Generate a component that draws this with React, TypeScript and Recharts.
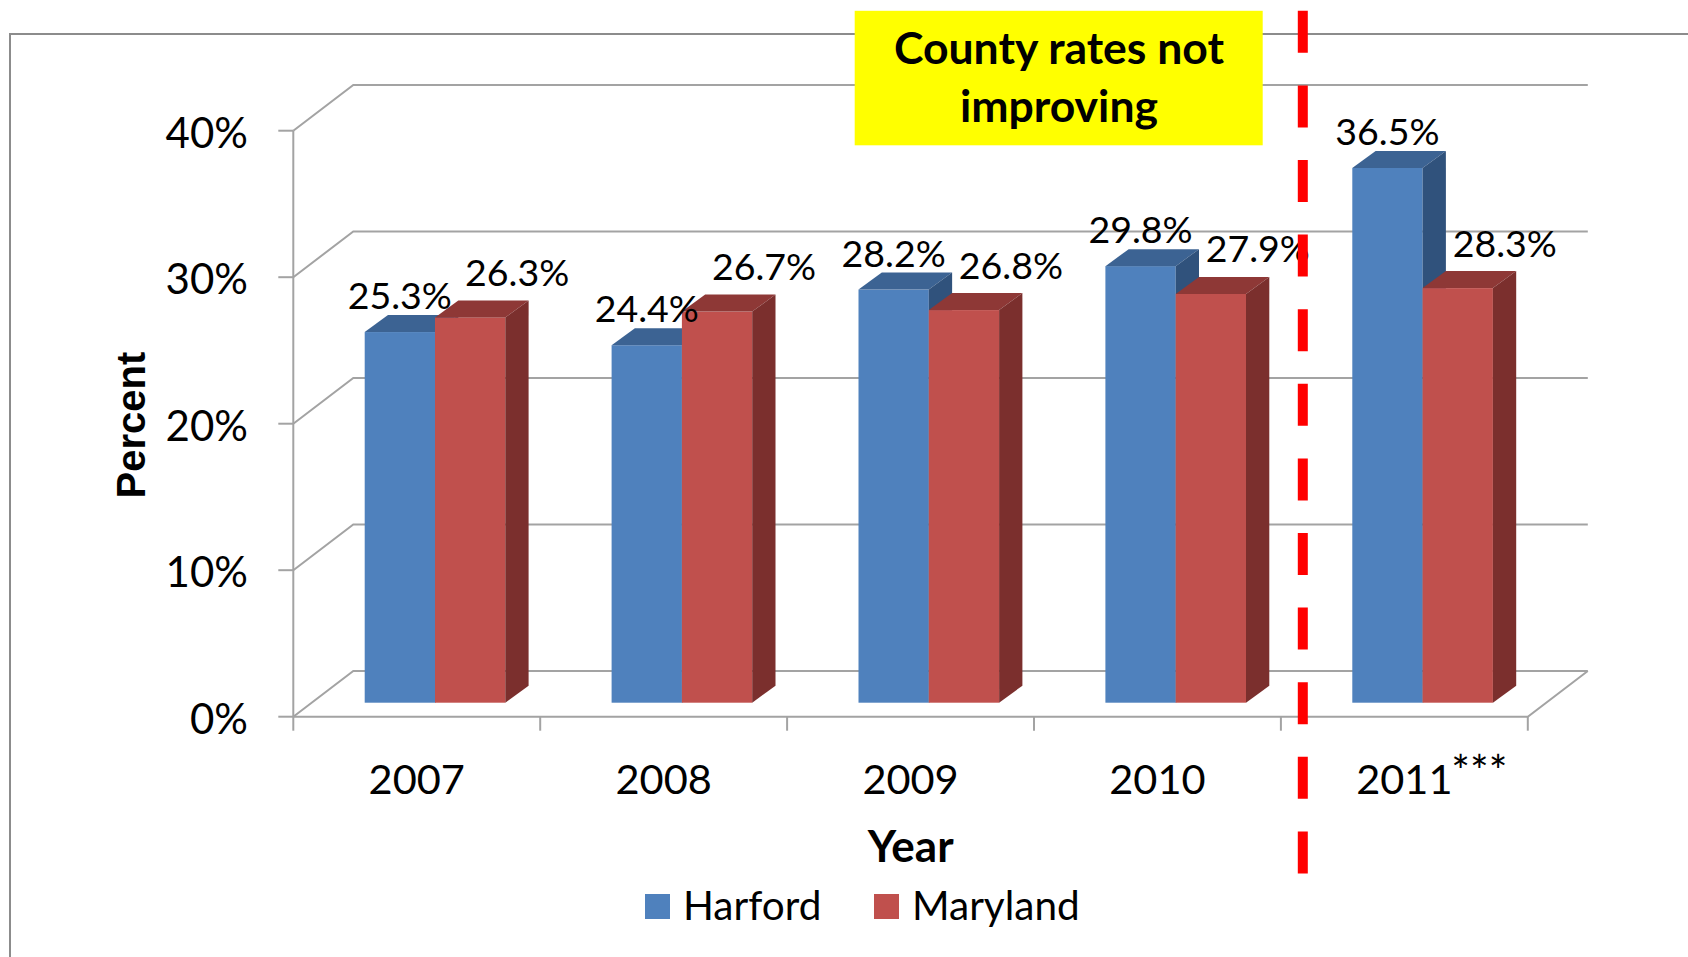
import React from "react";
import { BarChart, Bar, XAxis, YAxis, CartesianGrid, LabelList } from "recharts";

const years = ["2007", "2008", "2009", "2010", "2011***"];
const harford = [25.3, 24.4, 28.2, 29.8, 36.5];
const maryland = [26.3, 26.7, 26.8, 27.9, 28.3];
const seriesNames = ["Harford", "Maryland"];
const yTicks = [0, 10, 20, 30, 40];

const data = years.map((year, i) => ({ year, harford: harford[i], maryland: maryland[i] }));

const W = 1688;
const H = 957;
// plot area = the plane the bars stand on; front and back planes are offsets from it
const PLOT = { left: 311.7, right: 1546.2, top: 116.7, bottom: 702.7 };
const FRONT = { dx: -18.4, dy: 14 };
const BACK = { dx: 41.6, dy: -31.7 };
const DEPTH = { dx: 23.3, dy: 17 };
const BAND = (PLOT.right - PLOT.left) / years.length;
const Y_AXIS_W = 60;
const X_AXIS_H = 60;

const GRID = "#a3a3a3";
const FONT = "Lato, 'Open Sans', sans-serif";

const BLUE = { front: "#4f81bd", top: "#3c6393", side: "#30527c" };
const RED = { front: "#c0504d", top: "#8e3836", side: "#7b2f2d" };

const Box = (props: any) => {
  const { x, y, width: w, height: h, colors } = props;
  if (w == null || h == null) return null;
  const { dx, dy } = DEPTH;
  return (
    <g>
      <rect x={x} y={y} width={w} height={h} fill={colors.front} />
      <polygon
        points={`${x},${y} ${x + dx},${y - dy} ${x + w + dx},${y - dy} ${x + w},${y}`}
        fill={colors.top}
      />
      <polygon
        points={`${x + w},${y} ${x + w + dx},${y - dy} ${x + w + dx},${y + h - dy} ${x + w},${y + h}`}
        fill={colors.side}
      />
    </g>
  );
};

const GridLine = (p: any) => {
  const { x1, x2, y1 } = p;
  const fy = y1 + FRONT.dy;
  const by = y1 + BACK.dy;
  const fl = x1 + FRONT.dx;
  const fr = x2 + FRONT.dx;
  const bl = x1 + BACK.dx;
  const br = x2 + BACK.dx;
  const isFloor = Math.abs(y1 - PLOT.bottom) < 1;
  return (
    <g key={p.key}>
      <polyline points={`${fl},${fy} ${bl},${by} ${br},${by}`} stroke={GRID} strokeWidth={2} fill="none" />
      {isFloor && (
        <polyline points={`${fl},${fy} ${fr},${fy} ${br},${by}`} stroke={GRID} strokeWidth={2} fill="none" />
      )}
      {isFloor && (
        <line x1={fl} y1={PLOT.top + FRONT.dy} x2={fl} y2={fy} stroke={GRID} strokeWidth={2} />
      )}
    </g>
  );
};

const YTick = (p: any) => {
  const y = p.y + FRONT.dy;
  const fx = PLOT.left + FRONT.dx;
  return (
    <g>
      <line x1={fx - 15} x2={fx} y1={y} y2={y} stroke={GRID} strokeWidth={2} />
      <text x={248} y={y + 17} textAnchor="end" fontSize={42} fontFamily={FONT} fill="#000">
        {p.payload.value}%
      </text>
    </g>
  );
};

const XTick = (p: any) => {
  const cx = p.x + FRONT.dx;
  const fy = PLOT.bottom + FRONT.dy;
  const idx = p.index ?? p.payload?.index ?? 0;
  const val = String(p.payload.value);
  const main = val.replace(/\*+$/, "");
  const sup = val.slice(main.length);
  const left = cx - BAND / 2;
  return (
    <g>
      <line x1={left} x2={left} y1={fy} y2={fy + 14} stroke={GRID} strokeWidth={2} />
      {idx === years.length - 1 && (
        <line x1={left + BAND} x2={left + BAND} y1={fy} y2={fy + 14} stroke={GRID} strokeWidth={2} />
      )}
      <text x={cx} y={fy + 77} textAnchor="middle" fontSize={41.5} fontFamily={FONT} fill="#000">
        {main}
      </text>
      {sup && (
        <text x={cx + 47} y={fy + 70} textAnchor="start" fontSize={44} fontFamily={FONT} fill="#000">
          {sup}
        </text>
      )}
    </g>
  );
};

const makeLabel = (dx: number, dy: number) => (p: any) => {
  const { x, y, width, value } = p;
  return (
    <text x={x + width / 2 + dx} y={y + dy} textAnchor="middle" fontSize={37.5} fontFamily={FONT} fill="#000">
      {Number(value).toFixed(1)}%
    </text>
  );
};

export default function App() {
  const legendX = [645, 874];
  const legendColors = [BLUE.front, RED.front];
  return (
    <div style={{ position: "fixed", left: 0, top: 0, width: W, height: H, background: "#fff" }}>
      <BarChart
        width={W}
        height={H}
        data={data}
        margin={{
          top: PLOT.top,
          right: W - PLOT.right,
          bottom: H - PLOT.bottom - X_AXIS_H,
          left: PLOT.left - Y_AXIS_W,
        }}
        barGap={0}
        barSize={70.3}
      >
        <CartesianGrid vertical={false} horizontal={GridLine} />
        <XAxis dataKey="year" height={X_AXIS_H} axisLine={false} tickLine={false} tick={XTick} interval={0} />
        <YAxis
          width={Y_AXIS_W}
          domain={[0, 40]}
          ticks={yTicks}
          axisLine={false}
          tickLine={false}
          tick={YTick}
          interval={0}
        />
        <Bar
          dataKey="harford"
          name={seriesNames[0]}
          fill={BLUE.front}
          isAnimationActive={false}
          shape={(p: any) => <Box {...p} colors={BLUE} />}
        >
          <LabelList dataKey="harford" content={makeLabel(0, -23)} />
        </Bar>
        <Bar
          dataKey="maryland"
          name={seriesNames[1]}
          fill={RED.front}
          isAnimationActive={false}
          shape={(p: any) => <Box {...p} colors={RED} />}
        >
          <LabelList dataKey="maryland" content={makeLabel(47, -31.5)} />
        </Bar>
      </BarChart>
      <svg
        width={W}
        height={H}
        style={{ position: "absolute", left: 0, top: 0, pointerEvents: "none" }}
      >
        <polyline points={`10,${H} 10,34 ${W},34`} stroke="#8c8c8c" strokeWidth={2} fill="none" />
        <rect x={854.7} y={10.8} width={408} height={134.5} fill="#ffff00" />
        <text x={1059} y={64} textAnchor="middle" fontSize={44.5} fontWeight="bold" fontFamily={FONT} fill="#000">
          County rates not
        </text>
        <text x={1059} y={121.7} textAnchor="middle" fontSize={44.5} fontWeight="bold" fontFamily={FONT} fill="#000">
          improving
        </text>
        <line x1={1302.8} x2={1302.8} y1={10.8} y2={874} stroke="#ff0000" strokeWidth={10} strokeDasharray="42 32.6" />
        <text
          x={145}
          y={425}
          transform="rotate(-90 145 425)"
          textAnchor="middle"
          fontSize={40}
          fontWeight="bold"
          fontFamily="'Liberation Sans', Arial, sans-serif"
          fill="#000"
        >
          Percent
        </text>
        <text x={910.7} y={862} textAnchor="middle" fontSize={44} fontWeight="bold" fontFamily={FONT} fill="#000">
          Year
        </text>
        {seriesNames.map((name, i) => (
          <g key={name}>
            <rect x={legendX[i]} y={894} width={25} height={25} fill={legendColors[i]} />
            <text x={legendX[i] + 38} y={920} fontSize={40.5} fontFamily={FONT} fill="#000">
              {name}
            </text>
          </g>
        ))}
      </svg>
    </div>
  );
}
